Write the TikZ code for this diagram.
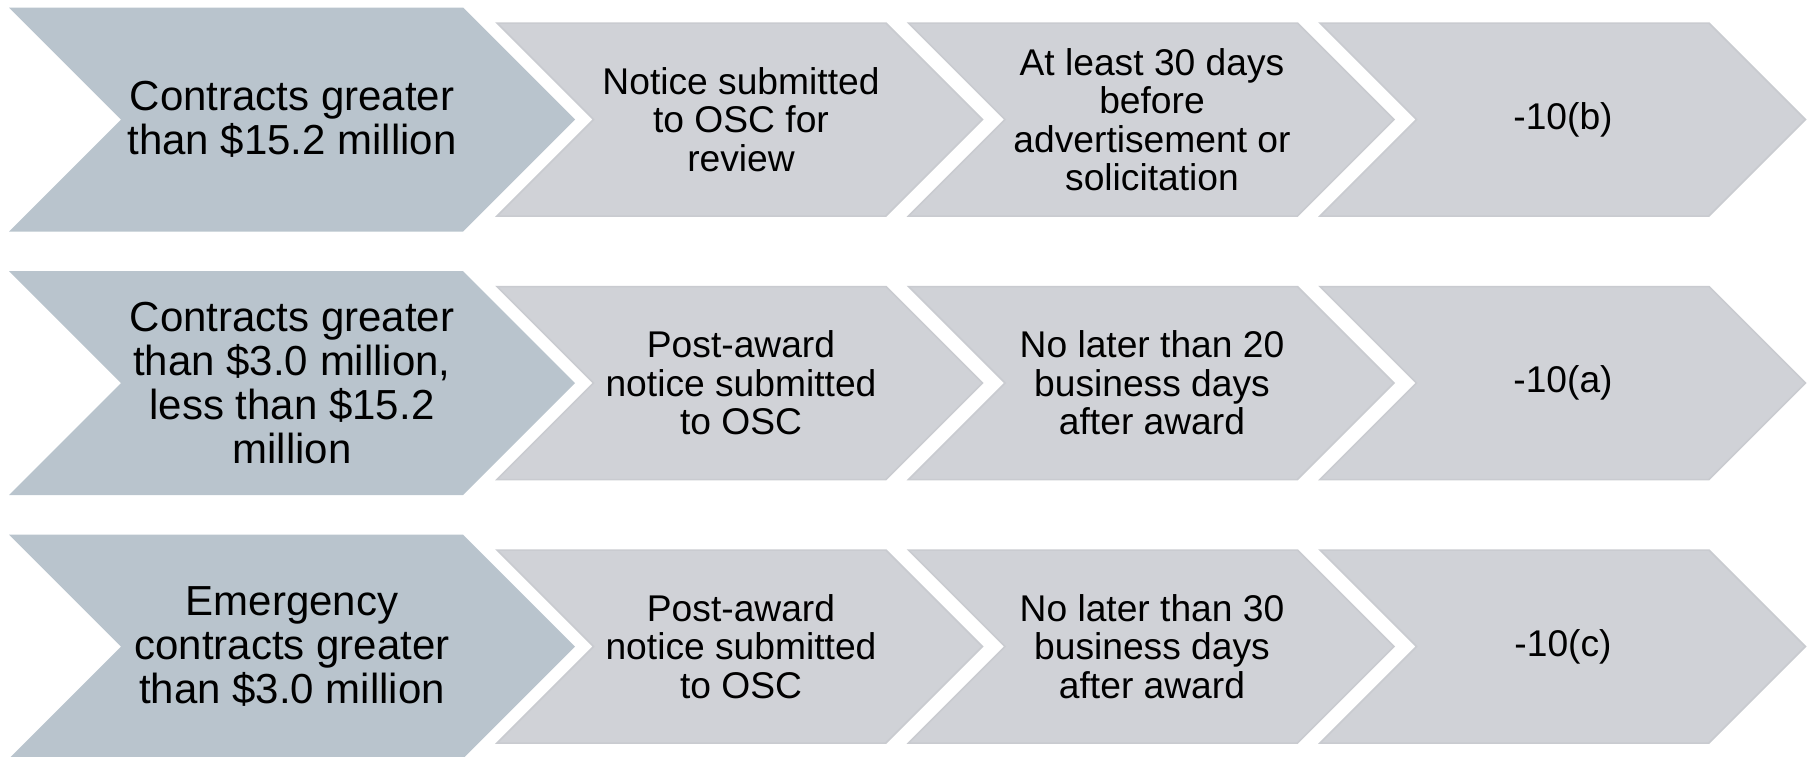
\documentclass[tikz,border=0pt]{standalone}
\usepackage{fontspec}
\setmainfont{Liberation Sans}
\definecolor{bigfill}{HTML}{B9C4CD}
\definecolor{grayfill}{HTML}{D0D2D7}
\definecolor{grayline}{HTML}{C9CBD0}
\newcommand{\chevshape}[5]{% style, left, mid, half, width
  \path[#1] (#2,{#3-#4}) -- ({#2+#5},{#3-#4}) -- ({#2+#5+#4},#3) -- ({#2+#5},{#3+#4}) -- (#2,{#3+#4}) -- ({#2+#4},#3) -- cycle;}
\tikzset{
  bigchev/.style={fill=bigfill},
  graychev/.style={fill=grayfill, draw=grayline, line width=1.5pt, line join=miter},
  bigtxt/.style={align=center, inner sep=0pt, font=\fontsize{42}{44}\selectfont, text=black},
  graytxt/.style={align=center, inner sep=0pt, font=\fontsize{37.2}{38.5}\selectfont, text=black},
}
\begin{document}
\begin{tikzpicture}[x=1pt,y=-1pt]
\useasboundingbox (0,0) rectangle (1808,756);
\foreach \c in {119.5,383,646.5}{
  \chevshape{bigchev}{9}{\c}{112}{454}
  \chevshape{graychev}{497}{\c}{96.5}{389}
  \chevshape{graychev}{908.5}{\c}{96.5}{389}
  \chevshape{graychev}{1320}{\c}{96.5}{389}
}
% row 1
\node[bigtxt] (a1) at (292,119.5) {Contracts greater\\than \$15.2 million};
\node[graytxt] (a2) at (741,119.5) {Notice submitted\\to OSC for\\review};
\node[graytxt] (a3) at (1152,119.5) {At least 30 days\\before\\advertisement or\\solicitation};
\node[graytxt] (a4) at (1563,119.5) {-10(b)};
% row 2
\node[bigtxt] (b1) at (292,383) {Contracts greater\\than \$3.0 million,\\less than \$15.2\\million};
\node[graytxt] (b2) at (741,383) {Post-award\\notice submitted\\to OSC};
\node[graytxt] (b3) at (1152,383) {No later than 20\\business days\\after award};
\node[graytxt] (b4) at (1563,383) {-10(a)};
% row 3
\node[bigtxt] (c1) at (292,646.5) {Emergency\\contracts greater\\than \$3.0 million};
\node[graytxt] (c2) at (741,646.5) {Post-award\\notice submitted\\to OSC};
\node[graytxt] (c3) at (1152,646.5) {No later than 30\\business days\\after award};
\node[graytxt] (c4) at (1563,646.5) {-10(c)};
\end{tikzpicture}
\end{document}
